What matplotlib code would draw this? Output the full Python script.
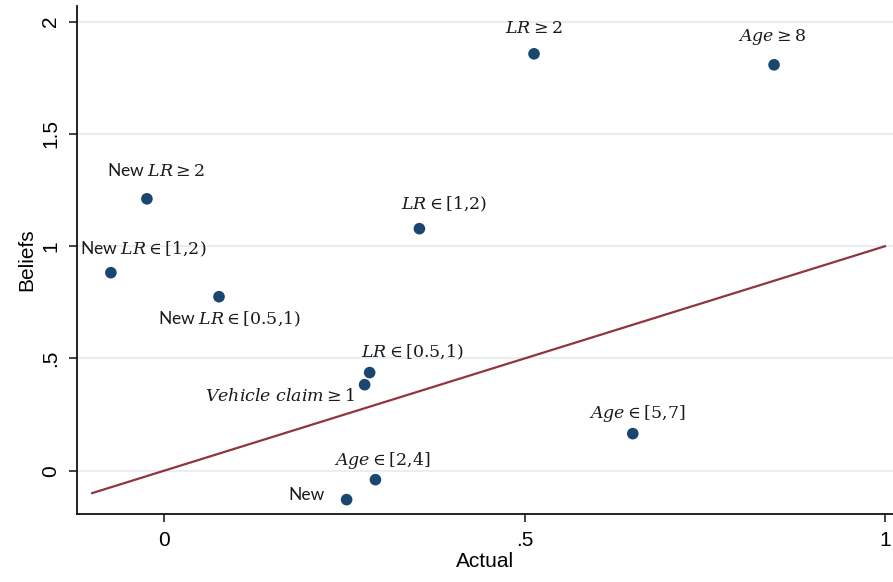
import matplotlib
matplotlib.use("Agg")
import matplotlib.pyplot as plt

plt.rcParams["mathtext.fontset"] = "custom"
plt.rcParams["mathtext.rm"] = "DejaVu Serif"
plt.rcParams["mathtext.it"] = "DejaVu Serif:italic"
plt.rcParams["mathtext.bf"] = "DejaVu Serif:bold"

# Group labels, actual shares and elicited beliefs
labels = [
    r"$LR \geq 2$",
    r"$Age \geq 8$",
    r"New $LR \geq 2$",
    r"$LR \in [1{,}2)$",
    r"New $LR \in [1{,}2)$",
    r"New $LR \in [0.5{,}1)$",
    r"$LR \in [0.5{,}1)$",
    r"$Vehicle\ claim \geq 1$",
    r"$Age \in [5{,}7]$",
    r"$Age \in [2{,}4]$",
    "New",
]
actual = [0.513, 0.846, -0.024, 0.354, -0.074, 0.076, 0.285, 0.278, 0.650, 0.293, 0.253]
beliefs = [1.857, 1.808, 1.211, 1.078, 0.882, 0.775, 0.437, 0.383, 0.165, -0.040, -0.129]

# 45-degree reference line range
line_x = [-0.1, 1.0]

x_ticks = [0, 0.5, 1]
x_ticklabels = ["0", ".5", "1"]
y_ticks = [0, 0.5, 1, 1.5, 2]
y_ticklabels = ["0", ".5", "1", "1.5", "2"]

# label placement: (dx, dy) in pixels, horizontal alignment
label_pos = [
    (0, 26, "center"),
    (-2, 28, "center"),
    (9, 28, "center"),
    (25, 24, "center"),
    (32, 23, "center"),
    (10, -23, "center"),
    (43, 20, "center"),
    (-10, -11, "right"),
    (4, 20, "center"),
    (7, 19, "center"),
    (-22, 5, "right"),
]

navy = "#1a476f"
maroon = "#90353b"
grid_c = "#e8eff2"

fig = plt.figure(figsize=(8.93, 5.82), dpi=100)
ax = fig.add_axes([77 / 893, 1 - 514 / 582, 1 - 77 / 893, (514 - 6) / 582])

ax.set_xlim(-0.121, 1.011)
ax.set_ylim(-0.193, 2.07)

for yt in y_ticks:
    ax.axhline(yt, color=grid_c, lw=1.5, zorder=0)

ax.plot(line_x, line_x, color=maroon, lw=1.6, zorder=2)
ax.scatter(actual, beliefs, s=70, color=navy, zorder=3, edgecolors="none")

px = 72 / 100
for lab, x, y, (dx, dy, ha) in zip(labels, actual, beliefs, label_pos):
    ax.annotate(lab, (x, y), xytext=(dx * px, dy * px), textcoords="offset points",
                ha=ha, va="center", fontsize=12.5, family="Lato", color="#1a1a1a")

ax.set_xticks(x_ticks)
ax.set_xticklabels(x_ticklabels)
ax.set_yticks(y_ticks)
ax.set_yticklabels(y_ticklabels, rotation=90, va="center")

for lbl in ax.get_xticklabels() + ax.get_yticklabels():
    lbl.set_fontfamily("Liberation Sans")
    lbl.set_fontsize(15)

ax.tick_params(axis="both", length=6, width=1.2, color="#222222", pad=6)
ax.spines["top"].set_visible(False)
ax.spines["right"].set_visible(False)
for s in ("left", "bottom"):
    ax.spines[s].set_linewidth(1.3)
    ax.spines[s].set_color("#111111")

ax.set_xlabel("Actual", fontfamily="Liberation Sans", fontsize=15, labelpad=2)
ax.set_ylabel("Beliefs", fontfamily="Liberation Sans", fontsize=15, labelpad=4)

fig.savefig("out.png", dpi=100)
